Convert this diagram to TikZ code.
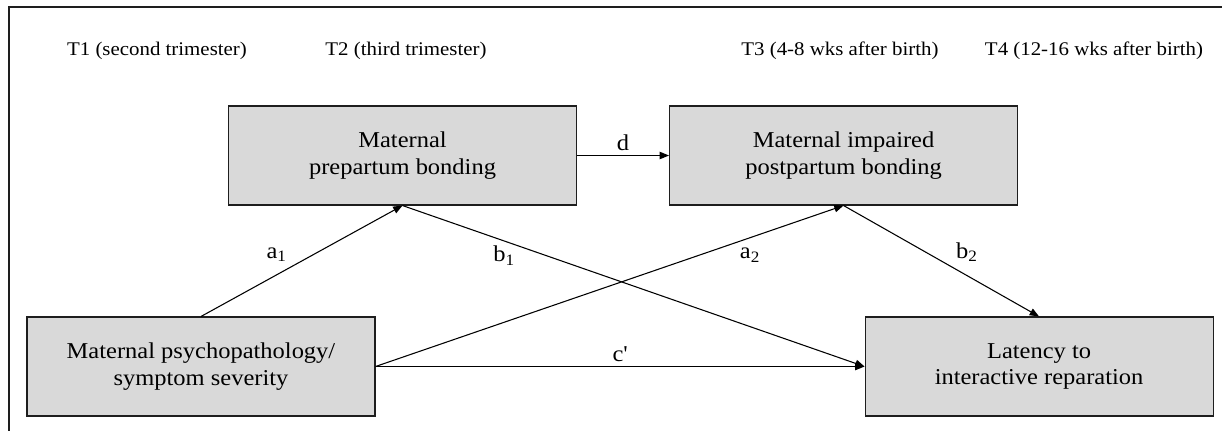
\documentclass[tikz,border=0pt]{standalone}
\usepackage{fontspec}
\setmainfont{Liberation Serif}[FakeStretch=1.08]
\usepackage{tikz}
\usetikzlibrary{arrows.meta,positioning}
\definecolor{boxgray}{RGB}{217,217,217}
\definecolor{linegray}{RGB}{30,30,30}

\begin{document}
\begin{tikzpicture}[x=0.75pt,y=-0.75pt,>={Triangle[length=7pt,width=5.5pt]},
  box/.style={draw=linegray,line width=0.8pt,fill=boxgray,minimum width=261pt,minimum height=74.25pt,
    align=center,inner sep=0pt,font=\fontsize{17}{20}\selectfont},
  link/.style={->,line width=0.8pt},
  lab/.style={font=\fontsize{17}{20}\selectfont},
  font=\fontsize{14.5}{17}\selectfont]
  \useasboundingbox (0,0) rectangle (1222,430);
  \draw[linegray,line width=0.8pt] (9,7) rectangle (1260,470);
  % time points
  \node (t1) at (157,51) {T1 (second trimester)};
  \node (t2) at (406,51) {T2 (third trimester)};
  \node (t3) at (840,51) {T3 (4-8 wks after birth)};
  \node (t4) at (1094,51) {T4 (12-16 wks after birth)};
  % variables
  \node[box] (pre) at (402.5,155.5) {Maternal\\prepartum bonding};
  \node[box,right=69pt of pre] (post) {Maternal impaired\\postpartum bonding};
  \node[box] (psy) at (201,366.5) {Maternal psychopathology/\\symptom severity};
  \node[box,right=366.75pt of psy] (lat) {Latency to\\interactive reparation};
  % paths
  \draw[link] (psy.north) -- node[lab,pos=0.45,above left] {a\textsubscript{1}} (pre.south);
  \draw[link] (pre.south) -- node[lab,pos=0.22,below] {b\textsubscript{1}} (lat.west);
  \draw[link] (psy.east) -- node[lab,pos=0.8,below=4pt] {a\textsubscript{2}} (post.south);
  \draw[link] (post.south) -- node[lab,pos=0.55,above right] {b\textsubscript{2}} (lat.north);
  \draw[link] (pre.east) -- node[lab,above] {d} (post.west);
  \draw[link] (psy.east) -- node[lab,above] {c\textquotesingle} (lat.west);
\end{tikzpicture}
\end{document}
